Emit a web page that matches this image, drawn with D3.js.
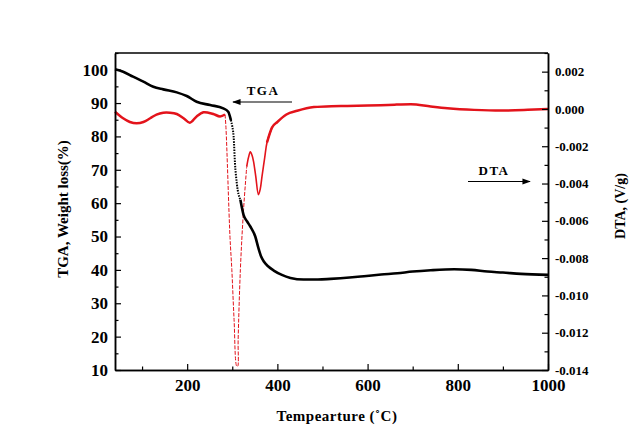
<!DOCTYPE html>
<html>
<head>
<meta charset="utf-8">
<script src="https://cdn.jsdelivr.net/npm/d3@7"></script>
<style>
  html, body { margin: 0; padding: 0; background: #fff; }
  svg { display: block; }
  text { font-family: "Liberation Serif", "Times New Roman", serif; font-weight: bold; fill: #000; }
</style>
</head>
<body>
<svg id="chart" width="634" height="442"></svg>
<script>
// ---- data ----
const tgaTemp = [40, 58, 80, 103, 125, 147, 177, 199, 221, 251, 280, 291, 297, 300, 303, 306, 310, 318, 325, 333, 340, 351, 358, 364, 370, 380, 392, 410, 429, 458, 490, 518, 560, 592, 630, 666, 700, 740, 792, 830, 866, 900, 940, 1000];
const tgaWeight = [100.1, 99.4, 97.9, 96.4, 94.9, 94.1, 93.2, 92.1, 90.4, 89.4, 88.4, 87.4, 84.9, 83.0, 80.0, 72.0, 66.0, 61.0, 56.5, 54.5, 53.0, 50.0, 46.5, 44.0, 42.5, 41.0, 39.8, 38.5, 37.6, 37.1, 37.1, 37.3, 37.7, 38.1, 38.6, 39.0, 39.5, 39.9, 40.2, 40.0, 39.5, 39.2, 38.8, 38.5];

const dtaTemp = [40, 58, 73, 88, 103, 118, 132, 147, 162, 177, 192, 206, 221, 236, 247, 258, 273, 284, 286, 295, 299, 304, 310, 312, 313, 318, 325, 332, 336, 340, 344, 347, 352, 358, 362, 366, 372, 377, 388, 400, 420, 444, 481, 520, 555, 600, 629, 660, 696, 740, 777, 836, 896, 955, 1000];
const dtaValue = [-0.00015, -0.0005, -0.0007, -0.00077, -0.0007, -0.0005, -0.0003, -0.0002, -0.0002, -0.00027, -0.0005, -0.00074, -0.0004, -0.00018, -0.0002, -0.00027, -0.0004, -0.0003, -0.001, -0.0069, -0.0086, -0.0113, -0.0138, -0.0138, -0.0124, -0.0086, -0.0054, -0.0031, -0.0026, -0.0023, -0.0025, -0.0028, -0.0036, -0.0046, -0.0043, -0.0036, -0.0026, -0.0018, -0.0010, -0.0007, -0.0003, -0.0001, 0.0001, 0.00015, 0.00016, 0.00018, 0.0002, 0.00023, 0.00025, 0.00013, 0.00004, -0.00005, -0.00009, -0.00005, 0.0];

const xTicks = [200, 400, 600, 800, 1000];
const xMinorTicks = [100, 300, 500, 700, 900];
const leftTicks = [10, 20, 30, 40, 50, 60, 70, 80, 90, 100];
const leftMinorTicks = [15, 25, 35, 45, 55, 65, 75, 85, 95, 105];
const rightTicks = [-0.014, -0.012, -0.010, -0.008, -0.006, -0.004, -0.002, 0.000, 0.002];
const rightMinorTicks = [-0.013, -0.011, -0.009, -0.007, -0.005, -0.003, -0.001, 0.001, 0.003];

const xTitle = "Tempearture (\u02DAC)";
const leftTitle = "TGA, Weight loss(%)";
const rightTitle = "DTA, (V/g)";

// ---- layout ----
const L = 115, R = 548, T = 53, B = 370;
const svg = d3.select("#chart");

const x = d3.scaleLinear().domain([40, 1000]).range([L, R]);
const yL = d3.scaleLinear().domain([10, 105]).range([B, T]);
const yR = d3.scaleLinear().domain([-0.014, 0.003]).range([B, T]);

const tga = tgaTemp.map((t, i) => ({t, v: tgaWeight[i]}));
const dta = dtaTemp.map((t, i) => ({t, v: dtaValue[i]}));

const red = "#e3131b";

// DTA segments
const lineR = d3.line().x(d => x(d.t)).y(d => yR(d.v)).curve(d3.curveMonotoneX);
const lineRc = d3.line().x(d => x(d.t)).y(d => yR(d.v)).curve(d3.curveCatmullRom);
const seg = (arr, a, b) => arr.filter(d => d.t >= a && d.t <= b);
svg.append("path").datum(seg(dta, 40, 284)).attr("d", lineRc)
  .attr("fill", "none").attr("stroke", red).attr("stroke-width", 2.5);
svg.append("path").datum(seg(dta, 284, 332)).attr("d", lineRc)
  .attr("fill", "none").attr("stroke", red).attr("stroke-width", 1).attr("stroke-dasharray", "4,1.5");
svg.append("path").datum(seg(dta, 332, 388)).attr("d", lineRc)
  .attr("fill", "none").attr("stroke", red).attr("stroke-width", 1.6);
svg.append("path").datum(seg(dta, 377, 1000)).attr("d", lineR)
  .attr("fill", "none").attr("stroke", red).attr("stroke-width", 2.5);

// TGA segments
const lineL = d3.line().x(d => x(d.t)).y(d => yL(d.v)).curve(d3.curveMonotoneX);
svg.append("path").datum(seg(tga, 40, 297)).attr("d", lineL)
  .attr("fill", "none").attr("stroke", "#000").attr("stroke-width", 2.6);
svg.append("path").datum(seg(tga, 297, 318)).attr("d", lineL)
  .attr("fill", "none").attr("stroke", "#000").attr("stroke-width", 2).attr("stroke-dasharray", "1.5,1.2");
svg.append("path").datum(seg(tga, 318, 1000)).attr("d", lineL)
  .attr("fill", "none").attr("stroke", "#000").attr("stroke-width", 2.6);

// ---- axes ----
function styleAxis(g) {
  g.selectAll("path.domain").attr("stroke", "#000").attr("stroke-width", 1.5);
  g.selectAll(".tick line").attr("stroke", "#000").attr("stroke-width", 1.2);
}
const gx = svg.append("g").attr("transform", `translate(0,${B})`)
  .call(d3.axisBottom(x).tickValues(xTicks).tickSize(-6).tickSizeOuter(0).tickPadding(9).tickFormat(d3.format("d")));
gx.selectAll("text").attr("font-size", 17);
styleAxis(gx);
const gxm = svg.append("g").attr("transform", `translate(0,${B})`)
  .call(d3.axisBottom(x).tickValues(xMinorTicks).tickSize(-3.5).tickSizeOuter(0).tickFormat(""));
styleAxis(gxm);

const gl = svg.append("g").attr("transform", `translate(${L},0)`)
  .call(d3.axisLeft(yL).tickValues(leftTicks).tickSize(-6).tickSizeOuter(0).tickPadding(7).tickFormat(d3.format("d")));
gl.selectAll("text").attr("font-size", 17);
styleAxis(gl);
const glm = svg.append("g").attr("transform", `translate(${L},0)`)
  .call(d3.axisLeft(yL).tickValues(leftMinorTicks).tickSize(-3.5).tickSizeOuter(0).tickFormat(""));
styleAxis(glm);

const gr = svg.append("g").attr("transform", `translate(${R},0)`)
  .call(d3.axisRight(yR).tickValues(rightTicks).tickSize(-6).tickSizeOuter(0).tickPadding(7).tickFormat(d => d.toFixed(3)));
gr.selectAll("text").attr("font-size", 13);
styleAxis(gr);
const grm = svg.append("g").attr("transform", `translate(${R},0)`)
  .call(d3.axisRight(yR).tickValues(rightMinorTicks).tickSize(-3.5).tickSizeOuter(0).tickFormat(""));
styleAxis(grm);

// top frame
svg.append("line").attr("x1", L).attr("x2", R).attr("y1", T).attr("y2", T)
  .attr("stroke", "#000").attr("stroke-width", 1.5);

// titles
svg.append("text").attr("x", 337).attr("y", 421).attr("text-anchor", "middle")
  .attr("font-size", 15).attr("letter-spacing", 0.5).text(xTitle);
svg.append("text").attr("transform", "translate(68,209) rotate(-90)").attr("text-anchor", "middle")
  .attr("font-size", 15).text(leftTitle);
svg.append("text").attr("transform", "translate(625,206) rotate(-90)").attr("text-anchor", "middle")
  .attr("font-size", 14).text(rightTitle);

// annotations
const defs = svg.append("defs");
defs.append("marker").attr("id", "ah").attr("viewBox", "0 0 10 10").attr("refX", 9).attr("refY", 5)
  .attr("markerWidth", 7).attr("markerHeight", 7).attr("orient", "auto-start-reverse")
  .append("path").attr("d", "M0,1.5 L10,5 L0,8.5 Z").attr("fill", "#000");

svg.append("text").attr("x", 263).attr("y", 95).attr("text-anchor", "middle")
  .attr("font-size", 13).attr("letter-spacing", 1.5).text("TGA");
svg.append("line").attr("x1", 292).attr("x2", 233).attr("y1", 102).attr("y2", 102)
  .attr("stroke", "#000").attr("stroke-width", 1.2).attr("marker-end", "url(#ah)");

svg.append("text").attr("x", 494).attr("y", 175).attr("text-anchor", "middle")
  .attr("font-size", 13).attr("letter-spacing", 1.5).text("DTA");
svg.append("line").attr("x1", 468).attr("x2", 530).attr("y1", 181.5).attr("y2", 181.5)
  .attr("stroke", "#000").attr("stroke-width", 1.2).attr("marker-end", "url(#ah)");
</script>
</body>
</html>
